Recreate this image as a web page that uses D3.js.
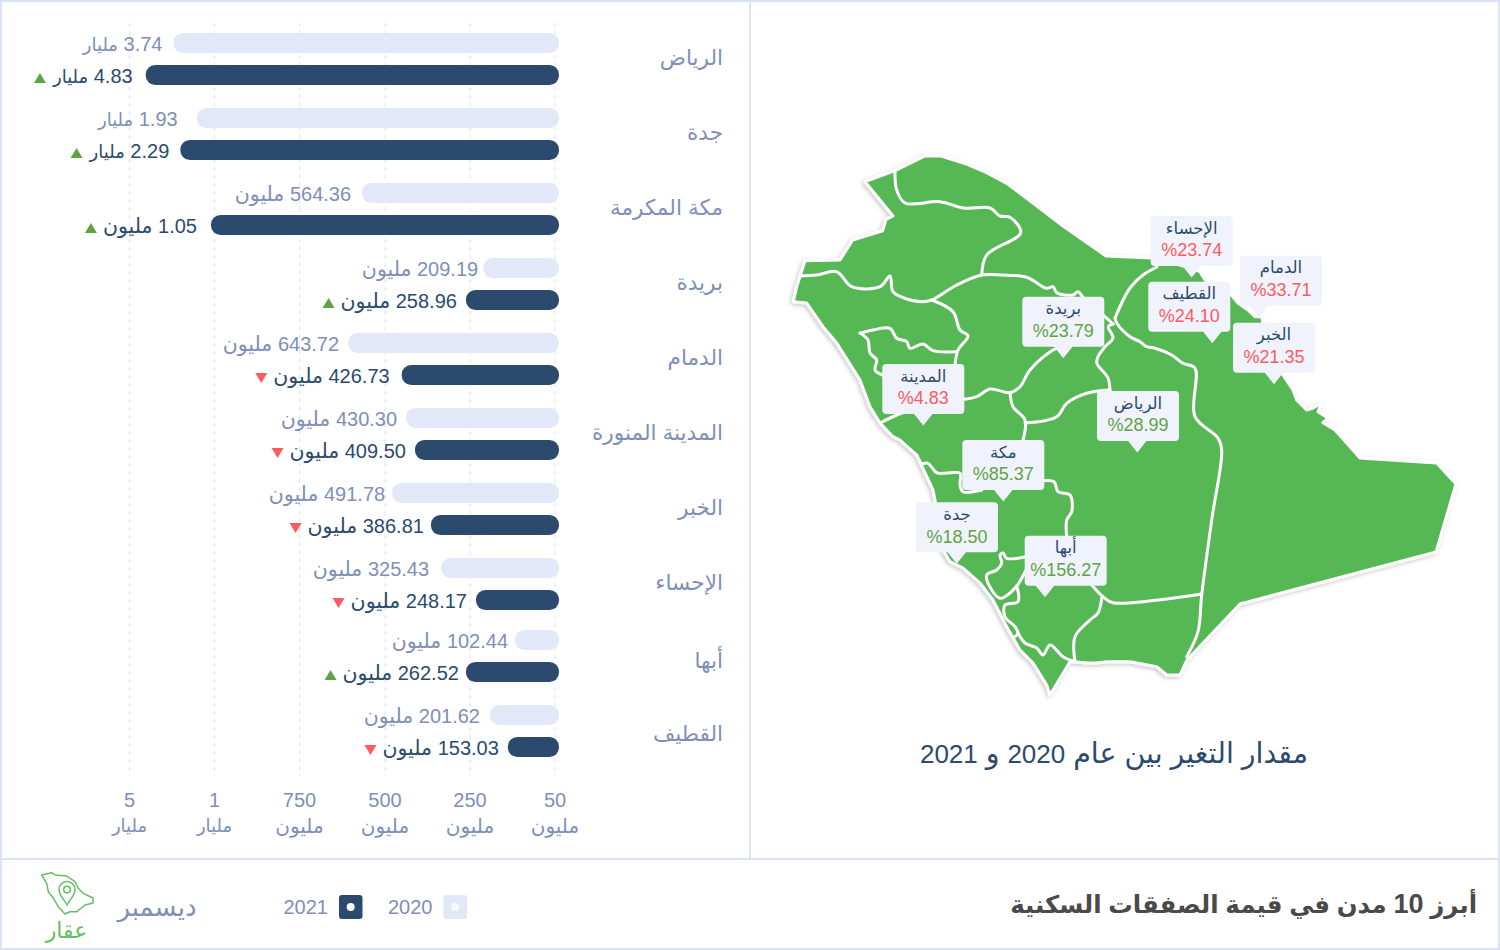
<!DOCTYPE html>
<html lang="ar">
<head>
<meta charset="utf-8">
<script src="https://cdn.jsdelivr.net/npm/d3@7"></script>
<style>
html,body{margin:0;padding:0;background:#fff}
svg{display:block}
text{font-family:"Liberation Sans","DejaVu Sans",sans-serif}
</style>
</head>
<body>
<svg id="c" width="1500" height="950"></svg>
<script>
// ---- data ----
const cities = ["الرياض","جدة","مكة المكرمة","بريدة","الدمام","المدينة المنورة","الخبر","الإحساء","أبها","القطيف"];
const value2020 = [3.74,1.93,564.36,209.19,643.72,430.30,491.78,325.43,102.44,201.62];
const value2021 = [4.83,2.29,1.05,258.96,426.73,409.50,386.81,248.17,262.52,153.03];
const unit2020 = ["مليار","مليار","مليون","مليون","مليون","مليون","مليون","مليون","مليون","مليون"];
const unit2021 = ["مليار","مليار","مليون","مليون","مليون","مليون","مليون","مليون","مليون","مليون"];
// bar lengths as read off the chart's gridlines, in millions (the picture's bars do not follow the printed labels exactly)
const barRead2020 = [2929,1838,567,219,608,438,479,335,144,203];
const barRead2021 = [4238,2609,1165,262,451,412,365,236,262,161];
const rising = [true,true,true,true,false,false,false,false,true,false];
const tickValues = [50,250,500,750,1000,5000];
const tickNumbers = ["50","250","500","750","1","5"];
const tickUnits = ["مليون","مليون","مليون","مليون","مليار","مليار"];
const legendYears = ["2020","2021"];
const mapCities = ["الإحساء","الدمام","القطيف","الخبر","الرياض","بريدة","المدينة","مكة","جدة","أبها"];
const mapChange = [23.74,33.71,24.10,21.35,28.99,23.79,4.83,85.37,18.50,156.27];
const mapUp = [false,false,false,false,true,true,false,true,true,true];

// ---- map geometry ----
const outline = [[865,181.7],[895,170.7],[925,156],[941,156],[966.7,164],[986.7,172.7],[1006.7,183.3],[1030,200.7],[1063,226],[1106,256],[1151.7,258],[1180,265],[1200,271.7],[1205,280],[1230.7,294],[1238,303],[1248,310],[1255,316.7],[1261.7,316.7],[1268,350],[1283,375],[1293,390],[1296.7,400],[1306.7,410],[1313,408],[1321.7,402.7],[1318,411.7],[1328,418],[1323,422.7],[1335,430],[1360,458],[1436.7,463],[1456,484],[1436,552],[1240,604],[1187,660],[1180,675],[1166.7,675],[1156.7,666.7],[1130,661.7],[1106.7,661.7],[1096.7,663],[1086.7,663],[1075,661.7],[1070,661.7],[1050,695],[1046.7,685],[1033,663],[1020,650],[1006.7,626.7],[993,600],[980,583],[963,568],[950,561.7],[943,550],[935,500],[933,490],[916.7,455],[900,440],[893,436.7],[880,423],[870,406.7],[860,380],[836.7,343],[823,326.7],[806.7,303],[793.3,301.7],[796.7,286.7],[805,260.7],[840,260],[852.7,240],[882.7,230.7],[886,219.3],[893,216]];
const borders = [
 [[895,170.7],[896.7,190],[905,203],[940,201.7],[963,208],[990,208],[1000,216],[1010,217.3],[1020.7,232.7],[986.7,255],[981.7,275]],
 [[800,276],[816.7,275],[836.7,271.7],[851.7,286.7],[880,286.7],[890,276],[893,291.7],[905,298.3],[921.7,301.7],[931.7,300],[956.7,285],[981.7,275],[1001.7,275],[1026.7,277.3],[1046.7,288.3],[1053,286.7],[1056.7,292.7],[1073,295],[1078,291.7],[1085,300],[1105,316.7],[1113,324]],
 [[931.7,300],[953,311.7],[960,330],[968,336],[958,350],[955,366]],
 [[860,333.3],[873,330],[890,328.3],[896.7,338.3],[906.7,341.7],[910,348.3],[923,344],[933,350.7],[955,351.7]],
 [[860,333],[868,340],[870,353],[876.7,360],[875,370],[885,376]],
 [[964,399.3],[976.7,396.7],[990,389],[1010,392.7],[1020,386.7],[1030,370],[1053,350],[1065,345]],
 [[880,423],[896.7,415],[905,412]],
 [[1010,392.7],[1013,406.7],[1025,420],[1023,440]],
 [[1025,423],[1056.7,416.7],[1066.7,403.3],[1086.7,393.3],[1110,390]],
 [[1113,324],[1108.3,326.7],[1113,338],[1105,346.7],[1098,356.7],[1096.7,363],[1108,378],[1110,392]],
 [[1115,318],[1130,288],[1143,275],[1157,267]],
 [[1115,318],[1116.7,323],[1130,336.7],[1140,341.7],[1146.7,346.7],[1155,348.3],[1171.7,355],[1183,363.3],[1195,368.3],[1195,416.7],[1218,438],[1221.7,450],[1211.7,520],[1201.7,595],[1198,631.7],[1186.7,656.7]],
 [[1201.7,594],[1113,602.7],[1103,596.7],[1091.7,585]],
 [[1101.7,598],[1098,613],[1090,620],[1075,636.7],[1075,661.7]],
 [[1044,480.7],[1054,481.7],[1058,491.7],[1070,495],[1071.7,511.7],[1066.7,520],[1066.7,537]],
 [[916.7,455],[921.7,463.3],[928,463.3],[936.7,472.7],[945,473.3],[960,473.3],[960,485],[963,491.7],[981.7,490]],
 [[1026,556.7],[1006.7,558.3],[1003,553],[1000,555],[1001.7,563],[996.7,570],[986.7,575],[991.7,590],[1000,598.3],[1005,596.7],[1016.7,586],[1026,570]],
 [[1016.7,586],[1018,601.7],[1005,605],[1005,616.7],[1015,626.7],[1018,633.3],[1013,638]],
 [[1018,633],[1025,643],[1036.7,648],[1043,655],[1050,645],[1063,656.7],[1075,661.7]]
];
const mapBoxAnchors = [[1191.7,266],[1259,305.7],[1212.3,331.7],[1274,372.7],[1137.3,441],[1063.3,346.7],[923.3,414],[1003.3,490],[956.7,552.3],[1045,585.7]];
const mapBoxLeft = [1150.7,1240,1148.3,1233,1097,1022.3,882.3,962.3,916,1024.7];

const logoOutline = [[41.7,875],[51.7,872.7],[55,875],[66.7,876],[75,881.7],[78,888],[83.3,893.3],[93,898],[93,903],[85,905],[76.7,911.7],[70,911.7],[65,914],[58.3,906.7],[53.3,898],[48.3,891.7],[46.7,883.3]];

// ---- layout ----
const svg = d3.select("#c");
const colDark="#2c4a6e", colLight="#e3e8f8", colMuted="#7f8fb8", colLine="#d8e4f6", colGreen="#57b755", colBox="#f0f3fb", colUp="#5fa345", colDown="#ff5a5f";

// axis scale, one segment for each tick interval
const x = d3.scaleLinear().domain(tickValues).range([555,470,385,299.5,214.5,129.5]);
const baseX = 559;
const rowTop2020 = d3.scaleOrdinal().domain(cities).range([33,108,183,258,333,408,483,558,630,705]);
const catY = d3.scaleOrdinal().domain(cities).range([57,132,207,282,357,432,507,582,660,733]);
const barH = 20, dy = 32, labelGap = 10;
const nudge2020 = [-1,-9,-1,5,1,1,3,-2,3,0];
const nudge2021 = [-3,-1,-4,1,-2,1,3,1,3,1];

// frame
const frame = svg.append("g").attr("stroke",colLine).attr("stroke-width",2).attr("fill","none");
frame.append("rect").attr("x",1).attr("y",1).attr("width",1498).attr("height",948);
frame.append("line").attr("x1",0).attr("x2",1500).attr("y1",859).attr("y2",859);
frame.append("line").attr("x1",750).attr("x2",750).attr("y1",0).attr("y2",859);

// gridlines
svg.append("g").selectAll("line").data(tickValues).join("line")
  .attr("x1",d=>x(d)).attr("x2",d=>x(d)).attr("y1",23).attr("y2",776)
  .attr("stroke",colLine).attr("stroke-dasharray","4 4");

// axis as labelled by d3.axisBottom
const axisG = svg.append("g").attr("transform","translate(-0.5,776)")
  .call(d3.axisBottom(x).tickValues(tickValues).tickSize(0).tickFormat((d,i)=>tickNumbers[i]));
axisG.select(".domain").remove();
axisG.selectAll("text").attr("y",24).attr("dy",".35em").attr("font-size",20).attr("fill",colMuted).style("font-family",'"Liberation Sans"');
axisG.selectAll(".tick").append("text").text((d,i)=>tickUnits[i])
  .attr("y",50).attr("dy",".35em").attr("text-anchor","middle").attr("font-size",d=>d>=1000?18:20).attr("fill",colMuted);

// category labels
svg.append("g").selectAll("text").data(cities).join("text")
  .attr("x",723).attr("y",d=>catY(d)).attr("dy",".35em")
  .attr("text-anchor","end").attr("font-size",21.6).attr("fill",colMuted).text(d=>d);

function barPath(xl,y){
  const r=9.5; return `M${xl+r},${y}H${baseX-r}A${r},${r} 0 0 1 ${baseX},${y+r}V${y+barH-r}A${r},${r} 0 0 1 ${baseX-r},${y+barH}H${xl+r}A${r},${r} 0 0 1 ${xl},${y+barH-r}V${y+r}A${r},${r} 0 0 1 ${xl+r},${y}Z`;
}
function valueLabel(sel,values,units){
  sel.each(function(d,i){
    const t=d3.select(this);
    t.append("tspan").text(values[i].toFixed(2)+" ");
    t.append("tspan").attr("font-size",units[i]==="مليار"?18:20.5).text(units[i]);
  });
}

const rows = svg.append("g").selectAll("g").data(cities).join("g");
rows.append("path").attr("fill",colLight).attr("d",(d,i)=>barPath(x(barRead2020[i]),rowTop2020(d)));
rows.append("path").attr("fill",colDark).attr("d",(d,i)=>barPath(x(barRead2021[i]),rowTop2020(d)+dy));
rows.append("text").attr("x",(d,i)=>x(barRead2020[i])-labelGap+nudge2020[i]).attr("y",d=>rowTop2020(d)+11).attr("dy",".35em")
  .attr("direction","rtl").attr("text-anchor","start").attr("font-size",20).attr("fill",colMuted)
  .call(valueLabel,value2020,unit2020);
const lab21 = rows.append("text").attr("x",(d,i)=>x(barRead2021[i])-labelGap+nudge2021[i]).attr("y",d=>rowTop2020(d)+dy+11).attr("dy",".35em")
  .attr("direction","rtl").attr("text-anchor","start").attr("font-size",20).attr("fill",colDark)
  .call(valueLabel,value2021,unit2021);
lab21.each(function(d,i){
  const b=this.getBBox();
  const cx=b.x-12, cy=rowTop2020(d)+dy+13;
  d3.select(this.parentNode).append("path")
    .attr("transform",`translate(${cx},${cy})`)
    .attr("d",rising[i]?"M-6,5L0,-5L6,5Z":"M-6,-5L6,-5L0,5Z")
    .attr("fill",rising[i]?colUp:colDown);
});

// map
const defs = svg.append("defs");
const f = defs.append("filter").attr("id","shadow").attr("x","-5%").attr("y","-5%").attr("width","110%").attr("height","110%");
f.append("feDropShadow").attr("dx",-1.5).attr("dy",1.5).attr("stdDeviation",2).attr("flood-color","#000").attr("flood-opacity",.22);
const line = d3.line();
svg.append("path").attr("d",line(outline)+"Z").attr("fill",colGreen).attr("stroke","#fff").attr("stroke-width",3).attr("stroke-linejoin","round").attr("filter","url(#shadow)");
const smooth = d3.line().curve(d3.curveCatmullRom.alpha(.5));
svg.append("g").selectAll("path").data(borders).join("path")
  .attr("d",smooth).attr("fill","none").attr("stroke","#fff").attr("stroke-width",3).attr("stroke-linejoin","round").attr("stroke-linecap","round");

// map callouts
const boxW=82, boxH=50;
const boxes = svg.append("g").selectAll("g").data(mapCities).join("g");
boxes.append("path").attr("fill",colBox).attr("d",(d,i)=>{
  const [ax,ay]=mapBoxAnchors[i];
  return `M${ax-10},${ay-1}L${ax},${ay+11.5}L${ax+10},${ay-1}Z`;
});
boxes.append("rect").attr("fill",colBox).attr("rx",4).attr("width",boxW).attr("height",boxH)
  .attr("x",(d,i)=>mapBoxLeft[i]).attr("y",(d,i)=>mapBoxAnchors[i][1]-boxH);
boxes.append("text").attr("x",(d,i)=>mapBoxLeft[i]+boxW/2).attr("y",(d,i)=>mapBoxAnchors[i][1]-boxH+12).attr("dy",".35em")
  .attr("text-anchor","middle").attr("font-size",16.5).attr("fill",colDark).text(d=>d);
boxes.append("text").attr("x",(d,i)=>mapBoxLeft[i]+boxW/2).attr("y",(d,i)=>mapBoxAnchors[i][1]-boxH+34).attr("dy",".35em")
  .attr("text-anchor","middle").attr("font-size",18).attr("fill",(d,i)=>mapUp[i]?colUp:colDown)
  .text((d,i)=>"%"+mapChange[i].toFixed(2));

// mixed-size text: Arabic and digit runs get their own size
function runs(sel,str,arabicSize,digitSize){
  str.split(/(\d+)/).filter(s=>s.length).forEach(s=>{
    sel.append("tspan").attr("font-size",/^\d+$/.test(s)?digitSize:arabicSize).text(s);
  });
}
// captions
const cap = svg.append("text").attr("x",1114).attr("y",760).attr("text-anchor","middle").attr("direction","rtl").attr("font-size",26).attr("dy",".35em").attr("y",754).attr("fill",colDark);
runs(cap,"مقدار التغير بين عام 2020 و 2021",28.5,26);
const ttl = svg.append("text").attr("x",1477).attr("y",904).attr("dy",".35em").attr("text-anchor","start").attr("direction","rtl").attr("font-weight",700).attr("font-size",26).attr("fill","#4a4a4a");
runs(ttl,"أبرز 10 مدن في قيمة الصفقات السكنية",24.4,27);
svg.append("text").attr("x",157).attr("y",907).attr("dy",".35em").attr("text-anchor","middle")
  .attr("font-size",26).attr("fill",colMuted).text("ديسمبر");

// legend
const lg = svg.append("g").selectAll("g").data(legendYears).join("g")
  .attr("transform",(d,i)=>`translate(${[443.5,339][i]},895)`);
lg.append("rect").attr("width",23.5).attr("height",24).attr("rx",3).attr("fill",(d,i)=>i?colDark:colLight);
lg.append("circle").attr("cx",11.7).attr("cy",12).attr("r",4).attr("fill","#fff").attr("opacity",(d,i)=>i?1:.8);
lg.append("text").attr("x",-11).attr("y",12).attr("dy",".35em").attr("text-anchor","end").attr("font-size",20).attr("fill",colMuted).text(d=>d);

// logo
const logo = svg.append("g").attr("fill","none").attr("stroke","#62c062").attr("stroke-width",1.5);
logo.append("path").attr("d",line(logoOutline)+"Z").attr("stroke-linejoin","round");
logo.append("path").attr("d","M67,905C63,898 59,895 59,889.5A8,8 0 1 1 75,889.5C75,895 71,898 67,905Z");
logo.append("circle").attr("cx",67).attr("cy",889.5).attr("r",3.3);
svg.append("text").attr("x",66.5).attr("y",930).attr("dy",".35em").attr("text-anchor","middle").attr("font-size",22).attr("fill","#62c062").text("عقار");
</script>
</body>
</html>
